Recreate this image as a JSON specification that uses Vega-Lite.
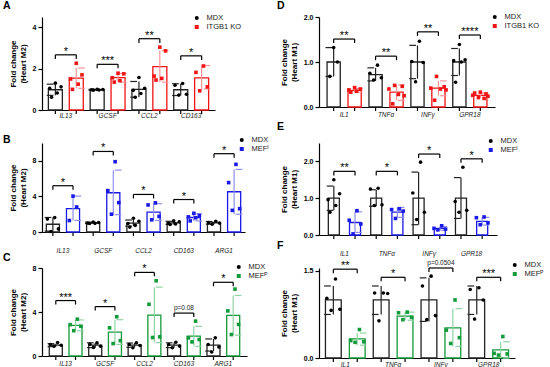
{
"$schema":"https://vega.github.io/schema/vega-lite/v6.json",
"padding":{"left":3,"top":0,"right":0,"bottom":0},
"config":{"font":"Liberation Sans","view":{"stroke":null},
"axis":{"domainColor":"black","tickColor":"black","labelColor":"black","grid":false,"labelFontSize":7,"labelFontWeight":"bold","titleFontSize":8,"titleFontWeight":"bold","titleColor":"black","domainWidth":1.2,"tickWidth":1.2,"tickSize":4},
"axisX":{"ticks":false,"labelFontStyle":"italic","labelFontWeight":"normal","labelFontSize":6.5,"labelAngle":0,"labelColor":"#222"},
"axisY":{"titlePadding":5,"labelPadding":2},
"legend":{"labelFontSize":7.5,"labelColor":"#222","symbolSize":16,"rowPadding":1,"clipHeight":8,"labelOffset":6,"symbolStrokeWidth":0},
"title":{"fontSize":10.5,"fontWeight":"bold","color":"black"}},
"datasets":{
"A_s":[{"g":"IL13","k":"MDX","m":0.98,"lo":0.71,"hi":1.25},{"g":"IL13","k":"ITGB1 KO","m":1.54,"lo":1.05,"hi":2.03},{"g":"GCSF","k":"MDX","m":0.98,"lo":0.96,"hi":1.0},{"g":"GCSF","k":"ITGB1 KO","m":1.57,"lo":1.35,"hi":1.77},{"g":"CCL2","k":"MDX","m":1.0,"lo":0.62,"hi":1.38},{"g":"CCL2","k":"ITGB1 KO","m":2.1,"lo":1.35,"hi":2.88},{"g":"CD163","k":"MDX","m":0.98,"lo":0.7,"hi":1.27},{"g":"CD163","k":"ITGB1 KO","m":1.55,"lo":1.02,"hi":2.15}],
"A_p":[{"g":"IL13","k":"MDX","v":1.3,"s":"a6"},{"g":"IL13","k":"MDX","v":1.12,"s":"a9"},{"g":"IL13","k":"MDX","v":1.05,"s":"a3"},{"g":"IL13","k":"MDX","v":0.82,"s":"a7"},{"g":"IL13","k":"MDX","v":0.62,"s":"a4"},
{"g":"IL13","k":"ITGB1 KO","v":2.26,"s":"b6"},{"g":"IL13","k":"ITGB1 KO","v":1.7,"s":"b9"},{"g":"IL13","k":"ITGB1 KO","v":1.5,"s":"b3"},{"g":"IL13","k":"ITGB1 KO","v":1.25,"s":"b7"},{"g":"IL13","k":"ITGB1 KO","v":1.0,"s":"b4"},
{"g":"GCSF","k":"MDX","v":1.0,"s":"a6"},{"g":"GCSF","k":"MDX","v":0.99,"s":"a9"},{"g":"GCSF","k":"MDX","v":0.98,"s":"a3"},{"g":"GCSF","k":"MDX","v":0.97,"s":"a7"},{"g":"GCSF","k":"MDX","v":0.96,"s":"a4"},
{"g":"GCSF","k":"ITGB1 KO","v":1.78,"s":"b6"},{"g":"GCSF","k":"ITGB1 KO","v":1.75,"s":"b9"},{"g":"GCSF","k":"ITGB1 KO","v":1.56,"s":"b3"},{"g":"GCSF","k":"ITGB1 KO","v":1.42,"s":"b7"},{"g":"GCSF","k":"ITGB1 KO","v":1.35,"s":"b4"},
{"g":"CCL2","k":"MDX","v":1.57,"s":"a6"},{"g":"CCL2","k":"MDX","v":1.05,"s":"a9"},{"g":"CCL2","k":"MDX","v":0.95,"s":"a3"},{"g":"CCL2","k":"MDX","v":0.8,"s":"a7"},{"g":"CCL2","k":"MDX","v":0.62,"s":"a4"},
{"g":"CCL2","k":"ITGB1 KO","v":3.04,"s":"b6"},{"g":"CCL2","k":"ITGB1 KO","v":2.86,"s":"b9"},{"g":"CCL2","k":"ITGB1 KO","v":1.64,"s":"b3"},{"g":"CCL2","k":"ITGB1 KO","v":1.53,"s":"b7"},{"g":"CCL2","k":"ITGB1 KO","v":1.45,"s":"b4"},
{"g":"CD163","k":"MDX","v":1.28,"s":"a7"},{"g":"CD163","k":"MDX","v":1.2,"s":"a3"},{"g":"CD163","k":"MDX","v":0.76,"s":"a9"},{"g":"CD163","k":"MDX","v":0.72,"s":"a5"},
{"g":"CD163","k":"ITGB1 KO","v":2.13,"s":"b7"},{"g":"CD163","k":"ITGB1 KO","v":1.82,"s":"b3"},{"g":"CD163","k":"ITGB1 KO","v":1.12,"s":"b9"},{"g":"CD163","k":"ITGB1 KO","v":0.93,"s":"b5"}],
"A_b":[{"g":"IL13","t":2.67,"l":2.47,"lab":"*"},{"g":"GCSF","t":2.21,"l":2.02,"lab":"***"},{"g":"CCL2","t":3.45,"l":3.24,"lab":"**"},{"g":"CD163","t":2.62,"l":2.42,"lab":"*"}],
"B_s":[{"g":"IL13","k":"MDX","m":0.87,"lo":0.1,"hi":1.63},{"g":"IL13","k":"MEFᴵ","m":2.62,"lo":1.3,"hi":4.03},{"g":"GCSF","k":"MDX","m":1.03,"lo":0.95,"hi":1.11},{"g":"GCSF","k":"MEFᴵ","m":4.41,"lo":1.95,"hi":6.95},{"g":"CCL2","k":"MDX","m":0.99,"lo":0.65,"hi":1.35},{"g":"CCL2","k":"MEFᴵ","m":2.24,"lo":1.3,"hi":3.18},{"g":"CD163","k":"MDX","m":1.03,"lo":0.85,"hi":1.2},{"g":"CD163","k":"MEFᴵ","m":1.63,"lo":1.25,"hi":2.05},{"g":"ARG1","k":"MDX","m":1.03,"lo":0.88,"hi":1.18},{"g":"ARG1","k":"MEFᴵ","m":4.52,"lo":2.0,"hi":7.03}],
"B_p":[{"g":"IL13","k":"MDX","v":1.62,"s":"a7"},{"g":"IL13","k":"MDX","v":1.45,"s":"a3"},{"g":"IL13","k":"MDX","v":0.35,"s":"a9"},{"g":"IL13","k":"MDX","v":0.06,"s":"a5"},
{"g":"IL13","k":"MEFᴵ","v":4.03,"s":"b6"},{"g":"IL13","k":"MEFᴵ","v":2.81,"s":"b8"},{"g":"IL13","k":"MEFᴵ","v":1.29,"s":"b4"},
{"g":"GCSF","k":"MDX","v":1.12,"s":"a6"},{"g":"GCSF","k":"MDX","v":1.06,"s":"a9"},{"g":"GCSF","k":"MDX","v":1.01,"s":"a3"},{"g":"GCSF","k":"MDX","v":0.97,"s":"a7"},{"g":"GCSF","k":"MDX","v":0.95,"s":"a4"},
{"g":"GCSF","k":"MEFᴵ","v":7.9,"s":"b7"},{"g":"GCSF","k":"MEFᴵ","v":4.65,"s":"b3"},{"g":"GCSF","k":"MEFᴵ","v":3.3,"s":"b9"},{"g":"GCSF","k":"MEFᴵ","v":2.0,"s":"b5"},
{"g":"CCL2","k":"MDX","v":1.55,"s":"a6"},{"g":"CCL2","k":"MDX","v":1.2,"s":"a9"},{"g":"CCL2","k":"MDX","v":0.95,"s":"a3"},{"g":"CCL2","k":"MDX","v":0.75,"s":"a7"},{"g":"CCL2","k":"MDX","v":0.55,"s":"a4"},
{"g":"CCL2","k":"MEFᴵ","v":3.27,"s":"b7"},{"g":"CCL2","k":"MEFᴵ","v":3.04,"s":"b3"},{"g":"CCL2","k":"MEFᴵ","v":1.75,"s":"b9"},{"g":"CCL2","k":"MEFᴵ","v":1.37,"s":"b5"},
{"g":"CD163","k":"MDX","v":1.25,"s":"a6"},{"g":"CD163","k":"MDX","v":1.15,"s":"a9"},{"g":"CD163","k":"MDX","v":1.0,"s":"a3"},{"g":"CD163","k":"MDX","v":0.9,"s":"a7"},{"g":"CD163","k":"MDX","v":0.85,"s":"a4"},
{"g":"CD163","k":"MEFᴵ","v":2.1,"s":"b6"},{"g":"CD163","k":"MEFᴵ","v":1.85,"s":"b9"},{"g":"CD163","k":"MEFᴵ","v":1.7,"s":"b3"},{"g":"CD163","k":"MEFᴵ","v":1.6,"s":"b7"},{"g":"CD163","k":"MEFᴵ","v":1.25,"s":"b4"},
{"g":"ARG1","k":"MDX","v":1.2,"s":"a7"},{"g":"ARG1","k":"MDX","v":1.05,"s":"a3"},{"g":"ARG1","k":"MDX","v":1.0,"s":"a9"},{"g":"ARG1","k":"MDX","v":0.88,"s":"a5"},
{"g":"ARG1","k":"MEFᴵ","v":7.6,"s":"b7"},{"g":"ARG1","k":"MEFᴵ","v":5.55,"s":"b3"},{"g":"ARG1","k":"MEFᴵ","v":2.62,"s":"b9"},{"g":"ARG1","k":"MEFᴵ","v":2.43,"s":"b5"}],
"B_b":[{"g":"IL13","t":5.2,"l":4.75,"lab":"*"},{"g":"GCSF","t":9.05,"l":8.6,"lab":"*"},{"g":"CCL2","t":4.22,"l":3.77,"lab":"*"},{"g":"CD163","t":3.65,"l":3.2,"lab":"*"},{"g":"ARG1","t":8.8,"l":8.35,"lab":"*"}],
"C_s":[{"g":"IL13","k":"MDX","m":0.98,"lo":0.85,"hi":1.12},{"g":"IL13","k":"MEFᴾ","m":2.78,"lo":2.3,"hi":3.28},{"g":"GCSF","k":"MDX","m":0.98,"lo":0.76,"hi":1.2},{"g":"GCSF","k":"MEFᴾ","m":2.17,"lo":1.05,"hi":3.3},{"g":"CCL2","k":"MDX","m":0.98,"lo":0.8,"hi":1.18},{"g":"CCL2","k":"MEFᴾ","m":3.72,"lo":1.22,"hi":6.26},{"g":"CD163","k":"MDX","m":0.98,"lo":0.76,"hi":1.2},{"g":"CD163","k":"MEFᴾ","m":1.8,"lo":0.88,"hi":2.7},{"g":"ARG1","k":"MDX","m":0.98,"lo":0.45,"hi":1.55},{"g":"ARG1","k":"MEFᴾ","m":3.7,"lo":1.9,"hi":5.5}],
"C_p":[{"g":"IL13","k":"MDX","v":1.22,"s":"a7"},{"g":"IL13","k":"MDX","v":1.04,"s":"a3"},{"g":"IL13","k":"MDX","v":0.98,"s":"a9"},{"g":"IL13","k":"MDX","v":0.89,"s":"a5"},
{"g":"IL13","k":"MEFᴾ","v":3.35,"s":"b7"},{"g":"IL13","k":"MEFᴾ","v":2.85,"s":"b3"},{"g":"IL13","k":"MEFᴾ","v":2.7,"s":"b9"},{"g":"IL13","k":"MEFᴾ","v":2.3,"s":"b5"},
{"g":"GCSF","k":"MDX","v":1.19,"s":"a7"},{"g":"GCSF","k":"MDX","v":1.07,"s":"a3"},{"g":"GCSF","k":"MDX","v":0.89,"s":"a9"},{"g":"GCSF","k":"MDX","v":0.78,"s":"a5"},
{"g":"GCSF","k":"MEFᴾ","v":3.57,"s":"b7"},{"g":"GCSF","k":"MEFᴾ","v":2.56,"s":"b3"},{"g":"GCSF","k":"MEFᴾ","v":1.4,"s":"b9"},{"g":"GCSF","k":"MEFᴾ","v":1.13,"s":"b5"},
{"g":"CCL2","k":"MDX","v":1.2,"s":"a7"},{"g":"CCL2","k":"MDX","v":1.05,"s":"a3"},{"g":"CCL2","k":"MDX","v":0.95,"s":"a9"},{"g":"CCL2","k":"MDX","v":0.75,"s":"a5"},
{"g":"CCL2","k":"MEFᴾ","v":6.84,"s":"b7"},{"g":"CCL2","k":"MEFᴾ","v":4.7,"s":"b3"},{"g":"CCL2","k":"MEFᴾ","v":1.74,"s":"b9"},{"g":"CCL2","k":"MEFᴾ","v":1.68,"s":"b5"},
{"g":"CD163","k":"MDX","v":1.25,"s":"a7"},{"g":"CD163","k":"MDX","v":1.05,"s":"a3"},{"g":"CD163","k":"MDX","v":0.9,"s":"a9"},{"g":"CD163","k":"MDX","v":0.75,"s":"a5"},
{"g":"CD163","k":"MEFᴾ","v":3.17,"s":"b7"},{"g":"CD163","k":"MEFᴾ","v":1.65,"s":"b3"},{"g":"CD163","k":"MEFᴾ","v":1.5,"s":"b9"},{"g":"CD163","k":"MEFᴾ","v":1.28,"s":"b5"},
{"g":"ARG1","k":"MDX","v":1.65,"s":"a7"},{"g":"ARG1","k":"MDX","v":1.04,"s":"a3"},{"g":"ARG1","k":"MDX","v":0.82,"s":"a9"},{"g":"ARG1","k":"MDX","v":0.37,"s":"a5"},
{"g":"ARG1","k":"MEFᴾ","v":6.08,"s":"b7"},{"g":"ARG1","k":"MEFᴾ","v":4.1,"s":"b3"},{"g":"ARG1","k":"MEFᴾ","v":2.87,"s":"b9"},{"g":"ARG1","k":"MEFᴾ","v":1.95,"s":"b5"}],
"C_b":[{"g":"IL13","t":5.04,"l":4.68,"lab":"***"},{"g":"GCSF","t":4.49,"l":4.13,"lab":"*"},{"g":"CCL2","t":7.6,"l":7.24,"lab":"*"},{"g":"CD163","t":3.9,"l":3.54,"lab":"p=0.08"},{"g":"ARG1","t":6.7,"l":6.34,"lab":"*"}],
"D_s":[{"g":"IL1","k":"MDX","m":1.0,"lo":0.68,"hi":1.32},{"g":"IL1","k":"ITGB1 KO","m":0.37,"lo":0.33,"hi":0.41},{"g":"TNFα","k":"MDX","m":0.72,"lo":0.58,"hi":0.87},{"g":"TNFα","k":"ITGB1 KO","m":0.33,"lo":0.15,"hi":0.49},{"g":"INFγ","k":"MDX","m":1.0,"lo":0.63,"hi":1.37},{"g":"INFγ","k":"ITGB1 KO","m":0.42,"lo":0.25,"hi":0.58},{"g":"GPR18","k":"MDX","m":1.0,"lo":0.7,"hi":1.3},{"g":"GPR18","k":"ITGB1 KO","m":0.26,"lo":0.21,"hi":0.31}],
"D_p":[{"g":"IL1","k":"MDX","v":1.32,"s":"a6"},{"g":"IL1","k":"MDX","v":1.0,"s":"a8"},{"g":"IL1","k":"MDX","v":0.68,"s":"a4"},
{"g":"IL1","k":"ITGB1 KO","v":0.43,"s":"b6"},{"g":"IL1","k":"ITGB1 KO","v":0.4,"s":"b9"},{"g":"IL1","k":"ITGB1 KO","v":0.38,"s":"b3"},{"g":"IL1","k":"ITGB1 KO","v":0.35,"s":"b7"},{"g":"IL1","k":"ITGB1 KO","v":0.33,"s":"b4"},
{"g":"TNFα","k":"MDX","v":0.93,"s":"a7"},{"g":"TNFα","k":"MDX","v":0.75,"s":"a3"},{"g":"TNFα","k":"MDX","v":0.65,"s":"a9"},{"g":"TNFα","k":"MDX","v":0.6,"s":"a5"},
{"g":"TNFα","k":"ITGB1 KO","v":0.48,"s":"b5"},{"g":"TNFα","k":"ITGB1 KO","v":0.46,"s":"b9"},{"g":"TNFα","k":"ITGB1 KO","v":0.4,"s":"b2"},{"g":"TNFα","k":"ITGB1 KO","v":0.28,"s":"b7"},{"g":"TNFα","k":"ITGB1 KO","v":0.25,"s":"b10"},{"g":"TNFα","k":"ITGB1 KO","v":0.07,"s":"b4"},
{"g":"INFγ","k":"MDX","v":1.46,"s":"a7"},{"g":"INFγ","k":"MDX","v":1.01,"s":"a3"},{"g":"INFγ","k":"MDX","v":0.99,"s":"a9"},{"g":"INFγ","k":"MDX","v":0.56,"s":"a5"},
{"g":"INFγ","k":"ITGB1 KO","v":0.68,"s":"b5"},{"g":"INFγ","k":"ITGB1 KO","v":0.45,"s":"b9"},{"g":"INFγ","k":"ITGB1 KO","v":0.42,"s":"b2"},{"g":"INFγ","k":"ITGB1 KO","v":0.4,"s":"b7"},{"g":"INFγ","k":"ITGB1 KO","v":0.38,"s":"b10"},{"g":"INFγ","k":"ITGB1 KO","v":0.15,"s":"b4"},
{"g":"GPR18","k":"MDX","v":1.39,"s":"a6"},{"g":"GPR18","k":"MDX","v":1.05,"s":"a9"},{"g":"GPR18","k":"MDX","v":1.03,"s":"a3"},{"g":"GPR18","k":"MDX","v":1.0,"s":"a7"},{"g":"GPR18","k":"MDX","v":0.55,"s":"a4"},
{"g":"GPR18","k":"ITGB1 KO","v":0.33,"s":"b6"},{"g":"GPR18","k":"ITGB1 KO","v":0.31,"s":"b3"},{"g":"GPR18","k":"ITGB1 KO","v":0.29,"s":"b9"},{"g":"GPR18","k":"ITGB1 KO","v":0.26,"s":"b2"},{"g":"GPR18","k":"ITGB1 KO","v":0.24,"s":"b10"},{"g":"GPR18","k":"ITGB1 KO","v":0.21,"s":"b5"},{"g":"GPR18","k":"ITGB1 KO","v":0.19,"s":"b8"}],
"D_b":[{"g":"IL1","t":1.51,"l":1.42,"lab":"**"},{"g":"TNFα","t":1.13,"l":1.04,"lab":"**"},{"g":"INFγ","t":1.67,"l":1.58,"lab":"**"},{"g":"GPR18","t":1.6,"l":1.51,"lab":"****"}],
"E_s":[{"g":"IL1","k":"MDX","m":1.0,"lo":0.67,"hi":1.33},{"g":"IL1","k":"MEFᴵ","m":0.34,"lo":0.07,"hi":0.63},{"g":"TNFα","k":"MDX","m":1.0,"lo":0.78,"hi":1.23},{"g":"TNFα","k":"MEFᴵ","m":0.62,"lo":0.48,"hi":0.75},{"g":"INFγ","k":"MDX","m":1.0,"lo":0.28,"hi":1.71},{"g":"INFγ","k":"MEFᴵ","m":0.18,"lo":0.13,"hi":0.23},{"g":"GPR18","k":"MDX","m":1.0,"lo":0.45,"hi":1.56},{"g":"GPR18","k":"MEFᴵ","m":0.37,"lo":0.27,"hi":0.48}],
"E_p":[{"g":"IL1","k":"MDX","v":1.5,"s":"a6"},{"g":"IL1","k":"MDX","v":1.12,"s":"a9"},{"g":"IL1","k":"MDX","v":0.96,"s":"a3"},{"g":"IL1","k":"MDX","v":0.8,"s":"a7"},{"g":"IL1","k":"MDX","v":0.62,"s":"a4"},
{"g":"IL1","k":"MEFᴵ","v":0.66,"s":"b7"},{"g":"IL1","k":"MEFᴵ","v":0.4,"s":"b3"},{"g":"IL1","k":"MEFᴵ","v":0.3,"s":"b9"},{"g":"IL1","k":"MEFᴵ","v":0.03,"s":"b5"},
{"g":"TNFα","k":"MDX","v":1.27,"s":"a7"},{"g":"TNFα","k":"MDX","v":1.25,"s":"a3"},{"g":"TNFα","k":"MDX","v":0.82,"s":"a9"},{"g":"TNFα","k":"MDX","v":0.8,"s":"a5"},
{"g":"TNFα","k":"MEFᴵ","v":0.71,"s":"b7"},{"g":"TNFα","k":"MEFᴵ","v":0.69,"s":"b3"},{"g":"TNFα","k":"MEFᴵ","v":0.65,"s":"b9"},{"g":"TNFα","k":"MEFᴵ","v":0.45,"s":"b5"},
{"g":"INFγ","k":"MDX","v":1.98,"s":"a7"},{"g":"INFγ","k":"MDX","v":1.14,"s":"a3"},{"g":"INFγ","k":"MDX","v":0.62,"s":"a9"},{"g":"INFγ","k":"MDX","v":0.42,"s":"a5"},
{"g":"INFγ","k":"MEFᴵ","v":0.25,"s":"b7"},{"g":"INFγ","k":"MEFᴵ","v":0.18,"s":"b3"},{"g":"INFγ","k":"MEFᴵ","v":0.16,"s":"b9"},{"g":"INFγ","k":"MEFᴵ","v":0.14,"s":"b5"},
{"g":"GPR18","k":"MDX","v":1.84,"s":"a7"},{"g":"GPR18","k":"MDX","v":0.91,"s":"a3"},{"g":"GPR18","k":"MDX","v":0.67,"s":"a9"},{"g":"GPR18","k":"MDX","v":0.62,"s":"a5"},
{"g":"GPR18","k":"MEFᴵ","v":0.49,"s":"b7"},{"g":"GPR18","k":"MEFᴵ","v":0.47,"s":"b3"},{"g":"GPR18","k":"MEFᴵ","v":0.33,"s":"b9"},{"g":"GPR18","k":"MEFᴵ","v":0.28,"s":"b5"}],
"E_b":[{"g":"IL1","t":1.73,"l":1.62,"lab":"**"},{"g":"TNFα","t":1.73,"l":1.62,"lab":"*"},{"g":"INFγ","t":2.2,"l":2.09,"lab":"*"},{"g":"GPR18","t":2.07,"l":1.96,"lab":"*"}],
"F_s":[{"g":"IL1","k":"MDX","m":1.0,"lo":0.75,"hi":1.24},{"g":"IL1","k":"MEFᴾ","m":0.33,"lo":0.22,"hi":0.43},{"g":"TNFα","k":"MDX","m":1.0,"lo":0.75,"hi":1.24},{"g":"TNFα","k":"MEFᴾ","m":0.72,"lo":0.65,"hi":0.79},{"g":"INFγ","k":"MDX","m":1.0,"lo":0.63,"hi":1.38},{"g":"INFγ","k":"MEFᴾ","m":0.52,"lo":0.2,"hi":0.85},{"g":"GPR18","k":"MDX","m":1.0,"lo":0.75,"hi":1.24},{"g":"GPR18","k":"MEFᴾ","m":0.14,"lo":0.0,"hi":0.28}],
"F_p":[{"g":"IL1","k":"MDX","v":1.36,"s":"a7"},{"g":"IL1","k":"MDX","v":1.03,"s":"a3"},{"g":"IL1","k":"MDX","v":0.84,"s":"a9"},{"g":"IL1","k":"MDX","v":0.82,"s":"a5"},
{"g":"IL1","k":"MEFᴾ","v":0.49,"s":"b7"},{"g":"IL1","k":"MEFᴾ","v":0.3,"s":"b3"},{"g":"IL1","k":"MEFᴾ","v":0.28,"s":"b9"},{"g":"IL1","k":"MEFᴾ","v":0.27,"s":"b5"},
{"g":"TNFα","k":"MDX","v":1.12,"s":"a7"},{"g":"TNFα","k":"MDX","v":1.12,"s":"a3"},{"g":"TNFα","k":"MDX","v":1.11,"s":"a9"},{"g":"TNFα","k":"MDX","v":0.64,"s":"a5"},
{"g":"TNFα","k":"MEFᴾ","v":0.79,"s":"b7"},{"g":"TNFα","k":"MEFᴾ","v":0.78,"s":"b3"},{"g":"TNFα","k":"MEFᴾ","v":0.7,"s":"b9"},{"g":"TNFα","k":"MEFᴾ","v":0.66,"s":"b5"},
{"g":"INFγ","k":"MDX","v":1.41,"s":"a7"},{"g":"INFγ","k":"MDX","v":1.24,"s":"a3"},{"g":"INFγ","k":"MDX","v":0.73,"s":"a9"},{"g":"INFγ","k":"MDX","v":0.66,"s":"a5"},
{"g":"INFγ","k":"MEFᴾ","v":1.0,"s":"b7"},{"g":"INFγ","k":"MEFᴾ","v":0.48,"s":"b3"},{"g":"INFγ","k":"MEFᴾ","v":0.35,"s":"b9"},{"g":"INFγ","k":"MEFᴾ","v":0.25,"s":"b5"},
{"g":"GPR18","k":"MDX","v":1.21,"s":"a7"},{"g":"GPR18","k":"MDX","v":1.18,"s":"a3"},{"g":"GPR18","k":"MDX","v":1.0,"s":"a9"},{"g":"GPR18","k":"MDX","v":0.67,"s":"a5"},
{"g":"GPR18","k":"MEFᴾ","v":0.37,"s":"b7"},{"g":"GPR18","k":"MEFᴾ","v":0.08,"s":"b3"},{"g":"GPR18","k":"MEFᴾ","v":0.07,"s":"b9"},{"g":"GPR18","k":"MEFᴾ","v":0.05,"s":"b5"}],
"F_b":[{"g":"IL1","t":1.53,"l":1.46,"lab":"**"},{"g":"TNFα","t":1.39,"l":1.32,"lab":"*"},{"g":"INFγ","t":1.55,"l":1.48,"lab":"p=0.0504"},{"g":"GPR18","t":1.39,"l":1.32,"lab":"***"}]
},
"columns":2,"align":"each","bounds":"flush","spacing":{"row":33,"column":72},
"resolve":{"scale":{"color":"independent","shape":"independent"},"legend":{"color":"independent","shape":"independent"}},
"concat":[
{"width":173,"height":93,
"title":{"text":"A","anchor":"start","frame":"group","dx":-39,"offset":3},
"encoding":{"x":{"field":"g","type":"nominal","title":null,"scale":{"domain":["IL13","GCSF","CCL2","CD163"],"paddingInner":0,"paddingOuter":0.07},"axis":{"labelPadding":2}}},
"resolve":{"scale":{"xOffset":"independent"}},
"layer":[
{"data":{"name":"A_s"},"mark":{"type":"rule","color":"black","strokeWidth":1.2},"encoding":{"xOffset":{"field":"k","type":"nominal","scale":{"domain":["MDX","ITGB1 KO"],"paddingInner":0.33,"paddingOuter":0.165}},"y":{"datum":0,"type":"quantitative","scale":{"domain":[0,4.5],"nice":false}},"y2":{"datum":-0.19}}},
{"data":{"name":"A_s"},"transform":[{"filter":{"field":"k","equal":"MDX"}}],"mark":{"type":"bar","fill":"white","stroke":"#222","strokeWidth":1.3},"encoding":{"xOffset":{"field":"k","type":"nominal","scale":{"domain":["MDX","ITGB1 KO"],"paddingInner":0.33,"paddingOuter":0.165}},"y":{"field":"m","type":"quantitative","scale":{"domain":[0,4.5],"nice":false},"axis":{"values":[0,2,4],"title":["Fold change","(Heart M2)"]}}}},
{"data":{"name":"A_s"},"transform":[{"filter":{"not":{"field":"k","equal":"MDX"}}}],"mark":{"type":"bar","fill":"white","stroke":"#f01414","strokeWidth":1.3},"encoding":{"xOffset":{"field":"k","type":"nominal","scale":{"domain":["MDX","ITGB1 KO"],"paddingInner":0.33,"paddingOuter":0.165}},"y":{"field":"m","type":"quantitative","scale":{"domain":[0,4.5],"nice":false}}}},
{"data":{"name":"A_s"},"transform":[{"filter":{"field":"k","equal":"MDX"}}],"mark":{"type":"rule","color":"#222","strokeWidth":1.2},"encoding":{"xOffset":{"field":"k","type":"nominal","scale":{"domain":["MDX","ITGB1 KO"],"paddingInner":0.33,"paddingOuter":0.165}},"y":{"field":"lo","type":"quantitative","scale":{"domain":[0,4.5],"nice":false}},"y2":{"field":"hi"}}},
{"data":{"name":"A_s"},"transform":[{"filter":{"not":{"field":"k","equal":"MDX"}}}],"mark":{"type":"rule","color":"#f59494","strokeWidth":1.2},"encoding":{"xOffset":{"field":"k","type":"nominal","scale":{"domain":["MDX","ITGB1 KO"],"paddingInner":0.33,"paddingOuter":0.165}},"y":{"field":"lo","type":"quantitative","scale":{"domain":[0,4.5],"nice":false}},"y2":{"field":"hi"}}},
{"data":{"name":"A_s"},"transform":[{"filter":{"field":"k","equal":"MDX"}}],"mark":{"type":"point","shape":"M-1,0L1,0","filled":false,"size":45,"strokeWidth":1.2,"color":"#222","opacity":1},"encoding":{"xOffset":{"field":"k","type":"nominal","scale":{"domain":["MDX","ITGB1 KO"],"paddingInner":0.33,"paddingOuter":0.165}},"y":{"field":"lo","type":"quantitative","scale":{"domain":[0,4.5],"nice":false}}}},
{"data":{"name":"A_s"},"transform":[{"filter":{"field":"k","equal":"MDX"}}],"mark":{"type":"point","shape":"M-1,0L1,0","filled":false,"size":45,"strokeWidth":1.2,"color":"#222","opacity":1},"encoding":{"xOffset":{"field":"k","type":"nominal","scale":{"domain":["MDX","ITGB1 KO"],"paddingInner":0.33,"paddingOuter":0.165}},"y":{"field":"hi","type":"quantitative","scale":{"domain":[0,4.5],"nice":false}}}},
{"data":{"name":"A_s"},"transform":[{"filter":{"not":{"field":"k","equal":"MDX"}}}],"mark":{"type":"point","shape":"M-1,0L1,0","filled":false,"size":45,"strokeWidth":1.2,"color":"#f59494","opacity":1},"encoding":{"xOffset":{"field":"k","type":"nominal","scale":{"domain":["MDX","ITGB1 KO"],"paddingInner":0.33,"paddingOuter":0.165}},"y":{"field":"lo","type":"quantitative","scale":{"domain":[0,4.5],"nice":false}}}},
{"data":{"name":"A_s"},"transform":[{"filter":{"not":{"field":"k","equal":"MDX"}}}],"mark":{"type":"point","shape":"M-1,0L1,0","filled":false,"size":45,"strokeWidth":1.2,"color":"#f59494","opacity":1},"encoding":{"xOffset":{"field":"k","type":"nominal","scale":{"domain":["MDX","ITGB1 KO"],"paddingInner":0.33,"paddingOuter":0.165}},"y":{"field":"hi","type":"quantitative","scale":{"domain":[0,4.5],"nice":false}}}},
{"data":{"name":"A_p"},"mark":{"type":"point","filled":true,"size":13,"opacity":1},"encoding":{"xOffset":{"field":"s","type":"nominal","scale":{"type":"point","domain":["a1","a2","a3","a4","a5","a6","a7","a8","a9","a10","a11","b1","b2","b3","b4","b5","b6","b7","b8","b9","b10","b11"],"padding":0.5}},"y":{"field":"v","type":"quantitative","scale":{"domain":[0,4.5],"nice":false}},"color":{"field":"k","type":"nominal","scale":{"domain":["MDX","ITGB1 KO"],"range":["black","#f01414"]},"legend":{"orient":"none","legendX":151,"legendY":-3,"title":null}},"shape":{"field":"k","type":"nominal","scale":{"domain":["MDX","ITGB1 KO"],"range":["circle","square"]},"legend":{"orient":"none","legendX":151,"legendY":-3,"title":null}}}},
{"data":{"name":"A_b"},"mark":{"type":"rule","color":"black","strokeWidth":1.2},"encoding":{"x":{"field":"g","type":"nominal","bandPosition":0.25,"scale":{"domain":["IL13","GCSF","CCL2","CD163"]}},"x2":{"field":"g","bandPosition":0.75},"y":{"field":"t","type":"quantitative","scale":{"domain":[0,4.5],"nice":false}}}},
{"data":{"name":"A_b"},"mark":{"type":"rule","color":"black","strokeWidth":1.2},"encoding":{"x":{"field":"g","type":"nominal","bandPosition":0.25,"scale":{"domain":["IL13","GCSF","CCL2","CD163"]}},"y":{"field":"t","type":"quantitative","scale":{"domain":[0,4.5],"nice":false}},"y2":{"field":"l"}}},
{"data":{"name":"A_b"},"mark":{"type":"rule","color":"black","strokeWidth":1.2},"encoding":{"x":{"field":"g","type":"nominal","bandPosition":0.75,"scale":{"domain":["IL13","GCSF","CCL2","CD163"]}},"y":{"field":"t","type":"quantitative","scale":{"domain":[0,4.5],"nice":false}},"y2":{"field":"l"}}},
{"data":{"name":"A_b"},"mark":{"type":"text","fontSize":11,"baseline":"alphabetic","dy":0,"color":"black"},"encoding":{"y":{"field":"t","type":"quantitative","scale":{"domain":[0,4.5],"nice":false}},"text":{"field":"lab"}}}
]},
{"width":176,"height":90,
"title":{"text":"D","anchor":"start","frame":"group","dx":-42,"offset":1.3},
"encoding":{"x":{"field":"g","type":"nominal","title":null,"scale":{"domain":["IL1","TNFα","INFγ","GPR18"],"paddingInner":0,"paddingOuter":0.1},"axis":{"labelPadding":4}}},
"resolve":{"scale":{"xOffset":"independent"}},
"layer":[
{"data":{"name":"D_s"},"mark":{"type":"rule","color":"black","strokeWidth":1.2},"encoding":{"xOffset":{"field":"k","type":"nominal","scale":{"domain":["MDX","ITGB1 KO"],"paddingInner":0.37,"paddingOuter":0.185}},"y":{"datum":0,"type":"quantitative","scale":{"domain":[0,2],"nice":false}},"y2":{"datum":-0.09}}},
{"data":{"name":"D_s"},"transform":[{"filter":{"field":"k","equal":"MDX"}}],"mark":{"type":"bar","fill":"white","stroke":"#222","strokeWidth":1.3},"encoding":{"xOffset":{"field":"k","type":"nominal","scale":{"domain":["MDX","ITGB1 KO"],"paddingInner":0.37,"paddingOuter":0.185}},"y":{"field":"m","type":"quantitative","scale":{"domain":[0,2],"nice":false},"axis":{"values":[0,0.5,1,1.5,2],"format":".1f","title":["Fold change","(Heart M1)"]}}}},
{"data":{"name":"D_s"},"transform":[{"filter":{"not":{"field":"k","equal":"MDX"}}}],"mark":{"type":"bar","fill":"white","stroke":"#f01414","strokeWidth":1.3},"encoding":{"xOffset":{"field":"k","type":"nominal","scale":{"domain":["MDX","ITGB1 KO"],"paddingInner":0.37,"paddingOuter":0.185}},"y":{"field":"m","type":"quantitative","scale":{"domain":[0,2],"nice":false}}}},
{"data":{"name":"D_s"},"transform":[{"filter":{"field":"k","equal":"MDX"}}],"mark":{"type":"rule","color":"#222","strokeWidth":1.2},"encoding":{"xOffset":{"field":"k","type":"nominal","scale":{"domain":["MDX","ITGB1 KO"],"paddingInner":0.37,"paddingOuter":0.185}},"y":{"field":"lo","type":"quantitative","scale":{"domain":[0,2],"nice":false}},"y2":{"field":"hi"}}},
{"data":{"name":"D_s"},"transform":[{"filter":{"not":{"field":"k","equal":"MDX"}}}],"mark":{"type":"rule","color":"#f59494","strokeWidth":1.2},"encoding":{"xOffset":{"field":"k","type":"nominal","scale":{"domain":["MDX","ITGB1 KO"],"paddingInner":0.37,"paddingOuter":0.185}},"y":{"field":"lo","type":"quantitative","scale":{"domain":[0,2],"nice":false}},"y2":{"field":"hi"}}},
{"data":{"name":"D_s"},"transform":[{"filter":{"field":"k","equal":"MDX"}}],"mark":{"type":"point","shape":"M-1,0L1,0","filled":false,"size":45,"strokeWidth":1.2,"color":"#222","opacity":1},"encoding":{"xOffset":{"field":"k","type":"nominal","scale":{"domain":["MDX","ITGB1 KO"],"paddingInner":0.37,"paddingOuter":0.185}},"y":{"field":"lo","type":"quantitative","scale":{"domain":[0,2],"nice":false}}}},
{"data":{"name":"D_s"},"transform":[{"filter":{"field":"k","equal":"MDX"}}],"mark":{"type":"point","shape":"M-1,0L1,0","filled":false,"size":45,"strokeWidth":1.2,"color":"#222","opacity":1},"encoding":{"xOffset":{"field":"k","type":"nominal","scale":{"domain":["MDX","ITGB1 KO"],"paddingInner":0.37,"paddingOuter":0.185}},"y":{"field":"hi","type":"quantitative","scale":{"domain":[0,2],"nice":false}}}},
{"data":{"name":"D_s"},"transform":[{"filter":{"not":{"field":"k","equal":"MDX"}}}],"mark":{"type":"point","shape":"M-1,0L1,0","filled":false,"size":45,"strokeWidth":1.2,"color":"#f59494","opacity":1},"encoding":{"xOffset":{"field":"k","type":"nominal","scale":{"domain":["MDX","ITGB1 KO"],"paddingInner":0.37,"paddingOuter":0.185}},"y":{"field":"lo","type":"quantitative","scale":{"domain":[0,2],"nice":false}}}},
{"data":{"name":"D_s"},"transform":[{"filter":{"not":{"field":"k","equal":"MDX"}}}],"mark":{"type":"point","shape":"M-1,0L1,0","filled":false,"size":45,"strokeWidth":1.2,"color":"#f59494","opacity":1},"encoding":{"xOffset":{"field":"k","type":"nominal","scale":{"domain":["MDX","ITGB1 KO"],"paddingInner":0.37,"paddingOuter":0.185}},"y":{"field":"hi","type":"quantitative","scale":{"domain":[0,2],"nice":false}}}},
{"data":{"name":"D_p"},"mark":{"type":"point","filled":true,"size":13,"opacity":1},"encoding":{"xOffset":{"field":"s","type":"nominal","scale":{"type":"point","domain":["a1","a2","a3","a4","a5","a6","a7","a8","a9","a10","a11","b1","b2","b3","b4","b5","b6","b7","b8","b9","b10","b11"],"padding":0.5}},"y":{"field":"v","type":"quantitative","scale":{"domain":[0,2],"nice":false}},"color":{"field":"k","type":"nominal","scale":{"domain":["MDX","ITGB1 KO"],"range":["black","#f01414"]},"legend":{"orient":"none","legendX":172,"legendY":-4,"title":null}},"shape":{"field":"k","type":"nominal","scale":{"domain":["MDX","ITGB1 KO"],"range":["circle","square"]},"legend":{"orient":"none","legendX":172,"legendY":-4,"title":null}}}},
{"data":{"name":"D_b"},"mark":{"type":"rule","color":"black","strokeWidth":1.2},"encoding":{"x":{"field":"g","type":"nominal","bandPosition":0.25,"scale":{"domain":["IL1","TNFα","INFγ","GPR18"]}},"x2":{"field":"g","bandPosition":0.75},"y":{"field":"t","type":"quantitative","scale":{"domain":[0,2],"nice":false}}}},
{"data":{"name":"D_b"},"mark":{"type":"rule","color":"black","strokeWidth":1.2},"encoding":{"x":{"field":"g","type":"nominal","bandPosition":0.25,"scale":{"domain":["IL1","TNFα","INFγ","GPR18"]}},"y":{"field":"t","type":"quantitative","scale":{"domain":[0,2],"nice":false}},"y2":{"field":"l"}}},
{"data":{"name":"D_b"},"mark":{"type":"rule","color":"black","strokeWidth":1.2},"encoding":{"x":{"field":"g","type":"nominal","bandPosition":0.75,"scale":{"domain":["IL1","TNFα","INFγ","GPR18"]}},"y":{"field":"t","type":"quantitative","scale":{"domain":[0,2],"nice":false}},"y2":{"field":"l"}}},
{"data":{"name":"D_b"},"mark":{"type":"text","fontSize":11,"baseline":"alphabetic","dy":0,"color":"black"},"encoding":{"y":{"field":"t","type":"quantitative","scale":{"domain":[0,2],"nice":false}},"text":{"field":"lab"}}}
]},
{"width":203,"height":89,
"title":{"text":"B","anchor":"start","frame":"group","dx":-39,"offset":-9},
"encoding":{"x":{"field":"g","type":"nominal","title":null,"scale":{"domain":["IL13","GCSF","CCL2","CD163","ARG1"],"paddingInner":0,"paddingOuter":0.02},"axis":{"labelPadding":15}}},
"resolve":{"scale":{"xOffset":"independent"}},
"layer":[
{"data":{"name":"B_s"},"mark":{"type":"rule","color":"black","strokeWidth":1.2},"encoding":{"xOffset":{"field":"k","type":"nominal","scale":{"domain":["MDX","MEFᴵ"],"paddingInner":0.35,"paddingOuter":0.175}},"y":{"datum":0,"type":"quantitative","scale":{"domain":[0,10],"nice":false}},"y2":{"datum":-0.45}}},
{"data":{"name":"B_s"},"transform":[{"filter":{"field":"k","equal":"MDX"}}],"mark":{"type":"bar","fill":"white","stroke":"#222","strokeWidth":1.3},"encoding":{"xOffset":{"field":"k","type":"nominal","scale":{"domain":["MDX","MEFᴵ"],"paddingInner":0.35,"paddingOuter":0.175}},"y":{"field":"m","type":"quantitative","scale":{"domain":[0,10],"nice":false},"axis":{"values":[0,2,4,6,8,10],"title":["Fold change","(Heart M2)"]}}}},
{"data":{"name":"B_s"},"transform":[{"filter":{"not":{"field":"k","equal":"MDX"}}}],"mark":{"type":"bar","fill":"white","stroke":"#1a1ae6","strokeWidth":1.3},"encoding":{"xOffset":{"field":"k","type":"nominal","scale":{"domain":["MDX","MEFᴵ"],"paddingInner":0.35,"paddingOuter":0.175}},"y":{"field":"m","type":"quantitative","scale":{"domain":[0,10],"nice":false}}}},
{"data":{"name":"B_s"},"transform":[{"filter":{"field":"k","equal":"MDX"}}],"mark":{"type":"rule","color":"#222","strokeWidth":1.2},"encoding":{"xOffset":{"field":"k","type":"nominal","scale":{"domain":["MDX","MEFᴵ"],"paddingInner":0.35,"paddingOuter":0.175}},"y":{"field":"lo","type":"quantitative","scale":{"domain":[0,10],"nice":false}},"y2":{"field":"hi"}}},
{"data":{"name":"B_s"},"transform":[{"filter":{"not":{"field":"k","equal":"MDX"}}}],"mark":{"type":"rule","color":"#8f8ff0","strokeWidth":1.2},"encoding":{"xOffset":{"field":"k","type":"nominal","scale":{"domain":["MDX","MEFᴵ"],"paddingInner":0.35,"paddingOuter":0.175}},"y":{"field":"lo","type":"quantitative","scale":{"domain":[0,10],"nice":false}},"y2":{"field":"hi"}}},
{"data":{"name":"B_s"},"transform":[{"filter":{"field":"k","equal":"MDX"}}],"mark":{"type":"point","shape":"M-1,0L1,0","filled":false,"size":45,"strokeWidth":1.2,"color":"#222","opacity":1},"encoding":{"xOffset":{"field":"k","type":"nominal","scale":{"domain":["MDX","MEFᴵ"],"paddingInner":0.35,"paddingOuter":0.175}},"y":{"field":"lo","type":"quantitative","scale":{"domain":[0,10],"nice":false}}}},
{"data":{"name":"B_s"},"transform":[{"filter":{"field":"k","equal":"MDX"}}],"mark":{"type":"point","shape":"M-1,0L1,0","filled":false,"size":45,"strokeWidth":1.2,"color":"#222","opacity":1},"encoding":{"xOffset":{"field":"k","type":"nominal","scale":{"domain":["MDX","MEFᴵ"],"paddingInner":0.35,"paddingOuter":0.175}},"y":{"field":"hi","type":"quantitative","scale":{"domain":[0,10],"nice":false}}}},
{"data":{"name":"B_s"},"transform":[{"filter":{"not":{"field":"k","equal":"MDX"}}}],"mark":{"type":"point","shape":"M-1,0L1,0","filled":false,"size":45,"strokeWidth":1.2,"color":"#8f8ff0","opacity":1},"encoding":{"xOffset":{"field":"k","type":"nominal","scale":{"domain":["MDX","MEFᴵ"],"paddingInner":0.35,"paddingOuter":0.175}},"y":{"field":"lo","type":"quantitative","scale":{"domain":[0,10],"nice":false}}}},
{"data":{"name":"B_s"},"transform":[{"filter":{"not":{"field":"k","equal":"MDX"}}}],"mark":{"type":"point","shape":"M-1,0L1,0","filled":false,"size":45,"strokeWidth":1.2,"color":"#8f8ff0","opacity":1},"encoding":{"xOffset":{"field":"k","type":"nominal","scale":{"domain":["MDX","MEFᴵ"],"paddingInner":0.35,"paddingOuter":0.175}},"y":{"field":"hi","type":"quantitative","scale":{"domain":[0,10],"nice":false}}}},
{"data":{"name":"B_p"},"mark":{"type":"point","filled":true,"size":13,"opacity":1},"encoding":{"xOffset":{"field":"s","type":"nominal","scale":{"type":"point","domain":["a1","a2","a3","a4","a5","a6","a7","a8","a9","a10","a11","b1","b2","b3","b4","b5","b6","b7","b8","b9","b10","b11"],"padding":0.5}},"y":{"field":"v","type":"quantitative","scale":{"domain":[0,10],"nice":false}},"color":{"field":"k","type":"nominal","scale":{"domain":["MDX","MEFᴵ"],"range":["black","#1a1ae6"]},"legend":{"orient":"none","legendX":196,"legendY":-7,"title":null}},"shape":{"field":"k","type":"nominal","scale":{"domain":["MDX","MEFᴵ"],"range":["circle","square"]},"legend":{"orient":"none","legendX":196,"legendY":-7,"title":null}}}},
{"data":{"name":"B_b"},"mark":{"type":"rule","color":"black","strokeWidth":1.2},"encoding":{"x":{"field":"g","type":"nominal","bandPosition":0.25,"scale":{"domain":["IL13","GCSF","CCL2","CD163","ARG1"]}},"x2":{"field":"g","bandPosition":0.75},"y":{"field":"t","type":"quantitative","scale":{"domain":[0,10],"nice":false}}}},
{"data":{"name":"B_b"},"mark":{"type":"rule","color":"black","strokeWidth":1.2},"encoding":{"x":{"field":"g","type":"nominal","bandPosition":0.25,"scale":{"domain":["IL13","GCSF","CCL2","CD163","ARG1"]}},"y":{"field":"t","type":"quantitative","scale":{"domain":[0,10],"nice":false}},"y2":{"field":"l"}}},
{"data":{"name":"B_b"},"mark":{"type":"rule","color":"black","strokeWidth":1.2},"encoding":{"x":{"field":"g","type":"nominal","bandPosition":0.75,"scale":{"domain":["IL13","GCSF","CCL2","CD163","ARG1"]}},"y":{"field":"t","type":"quantitative","scale":{"domain":[0,10],"nice":false}},"y2":{"field":"l"}}},
{"data":{"name":"B_b"},"mark":{"type":"text","fontSize":11,"baseline":"alphabetic","dy":0,"color":"black"},"encoding":{"y":{"field":"t","type":"quantitative","scale":{"domain":[0,10],"nice":false}},"text":{"field":"lab"}}}
]},
{"width":178,"height":92,
"title":{"text":"E","anchor":"start","frame":"group","dx":-42,"offset":5},
"encoding":{"x":{"field":"g","type":"nominal","title":null,"scale":{"domain":["IL1","TNFα","INFγ","GPR18"],"paddingInner":0,"paddingOuter":0.1},"axis":{"labelPadding":15}}},
"resolve":{"scale":{"xOffset":"independent"}},
"layer":[
{"data":{"name":"E_s"},"mark":{"type":"rule","color":"black","strokeWidth":1.2},"encoding":{"xOffset":{"field":"k","type":"nominal","scale":{"domain":["MDX","MEFᴵ"],"paddingInner":0.48,"paddingOuter":0.24}},"y":{"datum":0,"type":"quantitative","scale":{"domain":[0,2.5],"nice":false}},"y2":{"datum":-0.11}}},
{"data":{"name":"E_s"},"transform":[{"filter":{"field":"k","equal":"MDX"}}],"mark":{"type":"bar","fill":"white","stroke":"#222","strokeWidth":1.3},"encoding":{"xOffset":{"field":"k","type":"nominal","scale":{"domain":["MDX","MEFᴵ"],"paddingInner":0.48,"paddingOuter":0.24}},"y":{"field":"m","type":"quantitative","scale":{"domain":[0,2.5],"nice":false},"axis":{"values":[0,0.5,1,1.5,2,2.5],"format":".1f","title":["Fold change","(Heart M1)"]}}}},
{"data":{"name":"E_s"},"transform":[{"filter":{"not":{"field":"k","equal":"MDX"}}}],"mark":{"type":"bar","fill":"white","stroke":"#1a1ae6","strokeWidth":1.3},"encoding":{"xOffset":{"field":"k","type":"nominal","scale":{"domain":["MDX","MEFᴵ"],"paddingInner":0.48,"paddingOuter":0.24}},"y":{"field":"m","type":"quantitative","scale":{"domain":[0,2.5],"nice":false}}}},
{"data":{"name":"E_s"},"transform":[{"filter":{"field":"k","equal":"MDX"}}],"mark":{"type":"rule","color":"#222","strokeWidth":1.2},"encoding":{"xOffset":{"field":"k","type":"nominal","scale":{"domain":["MDX","MEFᴵ"],"paddingInner":0.48,"paddingOuter":0.24}},"y":{"field":"lo","type":"quantitative","scale":{"domain":[0,2.5],"nice":false}},"y2":{"field":"hi"}}},
{"data":{"name":"E_s"},"transform":[{"filter":{"not":{"field":"k","equal":"MDX"}}}],"mark":{"type":"rule","color":"#8f8ff0","strokeWidth":1.2},"encoding":{"xOffset":{"field":"k","type":"nominal","scale":{"domain":["MDX","MEFᴵ"],"paddingInner":0.48,"paddingOuter":0.24}},"y":{"field":"lo","type":"quantitative","scale":{"domain":[0,2.5],"nice":false}},"y2":{"field":"hi"}}},
{"data":{"name":"E_s"},"transform":[{"filter":{"field":"k","equal":"MDX"}}],"mark":{"type":"point","shape":"M-1,0L1,0","filled":false,"size":45,"strokeWidth":1.2,"color":"#222","opacity":1},"encoding":{"xOffset":{"field":"k","type":"nominal","scale":{"domain":["MDX","MEFᴵ"],"paddingInner":0.48,"paddingOuter":0.24}},"y":{"field":"lo","type":"quantitative","scale":{"domain":[0,2.5],"nice":false}}}},
{"data":{"name":"E_s"},"transform":[{"filter":{"field":"k","equal":"MDX"}}],"mark":{"type":"point","shape":"M-1,0L1,0","filled":false,"size":45,"strokeWidth":1.2,"color":"#222","opacity":1},"encoding":{"xOffset":{"field":"k","type":"nominal","scale":{"domain":["MDX","MEFᴵ"],"paddingInner":0.48,"paddingOuter":0.24}},"y":{"field":"hi","type":"quantitative","scale":{"domain":[0,2.5],"nice":false}}}},
{"data":{"name":"E_s"},"transform":[{"filter":{"not":{"field":"k","equal":"MDX"}}}],"mark":{"type":"point","shape":"M-1,0L1,0","filled":false,"size":45,"strokeWidth":1.2,"color":"#8f8ff0","opacity":1},"encoding":{"xOffset":{"field":"k","type":"nominal","scale":{"domain":["MDX","MEFᴵ"],"paddingInner":0.48,"paddingOuter":0.24}},"y":{"field":"lo","type":"quantitative","scale":{"domain":[0,2.5],"nice":false}}}},
{"data":{"name":"E_s"},"transform":[{"filter":{"not":{"field":"k","equal":"MDX"}}}],"mark":{"type":"point","shape":"M-1,0L1,0","filled":false,"size":45,"strokeWidth":1.2,"color":"#8f8ff0","opacity":1},"encoding":{"xOffset":{"field":"k","type":"nominal","scale":{"domain":["MDX","MEFᴵ"],"paddingInner":0.48,"paddingOuter":0.24}},"y":{"field":"hi","type":"quantitative","scale":{"domain":[0,2.5],"nice":false}}}},
{"data":{"name":"E_p"},"mark":{"type":"point","filled":true,"size":13,"opacity":1},"encoding":{"xOffset":{"field":"s","type":"nominal","scale":{"type":"point","domain":["a1","a2","a3","a4","a5","a6","a7","a8","a9","a10","a11","b1","b2","b3","b4","b5","b6","b7","b8","b9","b10","b11"],"padding":0.5}},"y":{"field":"v","type":"quantitative","scale":{"domain":[0,2.5],"nice":false}},"color":{"field":"k","type":"nominal","scale":{"domain":["MDX","MEFᴵ"],"range":["black","#1a1ae6"]},"legend":{"orient":"none","legendX":168,"legendY":-6,"title":null}},"shape":{"field":"k","type":"nominal","scale":{"domain":["MDX","MEFᴵ"],"range":["circle","square"]},"legend":{"orient":"none","legendX":168,"legendY":-6,"title":null}}}},
{"data":{"name":"E_b"},"mark":{"type":"rule","color":"black","strokeWidth":1.2},"encoding":{"x":{"field":"g","type":"nominal","bandPosition":0.25,"scale":{"domain":["IL1","TNFα","INFγ","GPR18"]}},"x2":{"field":"g","bandPosition":0.75},"y":{"field":"t","type":"quantitative","scale":{"domain":[0,2.5],"nice":false}}}},
{"data":{"name":"E_b"},"mark":{"type":"rule","color":"black","strokeWidth":1.2},"encoding":{"x":{"field":"g","type":"nominal","bandPosition":0.25,"scale":{"domain":["IL1","TNFα","INFγ","GPR18"]}},"y":{"field":"t","type":"quantitative","scale":{"domain":[0,2.5],"nice":false}},"y2":{"field":"l"}}},
{"data":{"name":"E_b"},"mark":{"type":"rule","color":"black","strokeWidth":1.2},"encoding":{"x":{"field":"g","type":"nominal","bandPosition":0.75,"scale":{"domain":["IL1","TNFα","INFγ","GPR18"]}},"y":{"field":"t","type":"quantitative","scale":{"domain":[0,2.5],"nice":false}},"y2":{"field":"l"}}},
{"data":{"name":"E_b"},"mark":{"type":"text","fontSize":11,"baseline":"alphabetic","dy":0,"color":"black"},"encoding":{"y":{"field":"t","type":"quantitative","scale":{"domain":[0,2.5],"nice":false}},"text":{"field":"lab"}}}
]},
{"width":205,"height":88,
"title":{"text":"C","anchor":"start","frame":"group","dx":-39,"offset":0},
"encoding":{"x":{"field":"g","type":"nominal","title":null,"scale":{"domain":["IL13","GCSF","CCL2","CD163","ARG1"],"paddingInner":0,"paddingOuter":0.1},"axis":{"labelPadding":4}}},
"resolve":{"scale":{"xOffset":"independent"}},
"layer":[
{"data":{"name":"C_s"},"mark":{"type":"rule","color":"black","strokeWidth":1.2},"encoding":{"xOffset":{"field":"k","type":"nominal","scale":{"domain":["MDX","MEFᴾ"],"paddingInner":0.34,"paddingOuter":0.17}},"y":{"datum":0,"type":"quantitative","scale":{"domain":[0,8],"nice":false}},"y2":{"datum":-0.36}}},
{"data":{"name":"C_s"},"transform":[{"filter":{"field":"k","equal":"MDX"}}],"mark":{"type":"bar","fill":"white","stroke":"#222","strokeWidth":1.3},"encoding":{"xOffset":{"field":"k","type":"nominal","scale":{"domain":["MDX","MEFᴾ"],"paddingInner":0.34,"paddingOuter":0.17}},"y":{"field":"m","type":"quantitative","scale":{"domain":[0,8],"nice":false},"axis":{"values":[0,2,4,6,8],"title":["Fold change","(Heart M2)"]}}}},
{"data":{"name":"C_s"},"transform":[{"filter":{"not":{"field":"k","equal":"MDX"}}}],"mark":{"type":"bar","fill":"white","stroke":"#139a3a","strokeWidth":1.3},"encoding":{"xOffset":{"field":"k","type":"nominal","scale":{"domain":["MDX","MEFᴾ"],"paddingInner":0.34,"paddingOuter":0.17}},"y":{"field":"m","type":"quantitative","scale":{"domain":[0,8],"nice":false}}}},
{"data":{"name":"C_s"},"transform":[{"filter":{"field":"k","equal":"MDX"}}],"mark":{"type":"rule","color":"#222","strokeWidth":1.2},"encoding":{"xOffset":{"field":"k","type":"nominal","scale":{"domain":["MDX","MEFᴾ"],"paddingInner":0.34,"paddingOuter":0.17}},"y":{"field":"lo","type":"quantitative","scale":{"domain":[0,8],"nice":false}},"y2":{"field":"hi"}}},
{"data":{"name":"C_s"},"transform":[{"filter":{"not":{"field":"k","equal":"MDX"}}}],"mark":{"type":"rule","color":"#8fd3a4","strokeWidth":1.2},"encoding":{"xOffset":{"field":"k","type":"nominal","scale":{"domain":["MDX","MEFᴾ"],"paddingInner":0.34,"paddingOuter":0.17}},"y":{"field":"lo","type":"quantitative","scale":{"domain":[0,8],"nice":false}},"y2":{"field":"hi"}}},
{"data":{"name":"C_s"},"transform":[{"filter":{"field":"k","equal":"MDX"}}],"mark":{"type":"point","shape":"M-1,0L1,0","filled":false,"size":45,"strokeWidth":1.2,"color":"#222","opacity":1},"encoding":{"xOffset":{"field":"k","type":"nominal","scale":{"domain":["MDX","MEFᴾ"],"paddingInner":0.34,"paddingOuter":0.17}},"y":{"field":"lo","type":"quantitative","scale":{"domain":[0,8],"nice":false}}}},
{"data":{"name":"C_s"},"transform":[{"filter":{"field":"k","equal":"MDX"}}],"mark":{"type":"point","shape":"M-1,0L1,0","filled":false,"size":45,"strokeWidth":1.2,"color":"#222","opacity":1},"encoding":{"xOffset":{"field":"k","type":"nominal","scale":{"domain":["MDX","MEFᴾ"],"paddingInner":0.34,"paddingOuter":0.17}},"y":{"field":"hi","type":"quantitative","scale":{"domain":[0,8],"nice":false}}}},
{"data":{"name":"C_s"},"transform":[{"filter":{"not":{"field":"k","equal":"MDX"}}}],"mark":{"type":"point","shape":"M-1,0L1,0","filled":false,"size":45,"strokeWidth":1.2,"color":"#8fd3a4","opacity":1},"encoding":{"xOffset":{"field":"k","type":"nominal","scale":{"domain":["MDX","MEFᴾ"],"paddingInner":0.34,"paddingOuter":0.17}},"y":{"field":"lo","type":"quantitative","scale":{"domain":[0,8],"nice":false}}}},
{"data":{"name":"C_s"},"transform":[{"filter":{"not":{"field":"k","equal":"MDX"}}}],"mark":{"type":"point","shape":"M-1,0L1,0","filled":false,"size":45,"strokeWidth":1.2,"color":"#8fd3a4","opacity":1},"encoding":{"xOffset":{"field":"k","type":"nominal","scale":{"domain":["MDX","MEFᴾ"],"paddingInner":0.34,"paddingOuter":0.17}},"y":{"field":"hi","type":"quantitative","scale":{"domain":[0,8],"nice":false}}}},
{"data":{"name":"C_p"},"mark":{"type":"point","filled":true,"size":13,"opacity":1},"encoding":{"xOffset":{"field":"s","type":"nominal","scale":{"type":"point","domain":["a1","a2","a3","a4","a5","a6","a7","a8","a9","a10","a11","b1","b2","b3","b4","b5","b6","b7","b8","b9","b10","b11"],"padding":0.5}},"y":{"field":"v","type":"quantitative","scale":{"domain":[0,8],"nice":false}},"color":{"field":"k","type":"nominal","scale":{"domain":["MDX","MEFᴾ"],"range":["black","#139a3a"]},"legend":{"orient":"none","legendX":193,"legendY":-5,"title":null}},"shape":{"field":"k","type":"nominal","scale":{"domain":["MDX","MEFᴾ"],"range":["circle","square"]},"legend":{"orient":"none","legendX":193,"legendY":-5,"title":null}}}},
{"data":{"name":"C_b"},"mark":{"type":"rule","color":"black","strokeWidth":1.2},"encoding":{"x":{"field":"g","type":"nominal","bandPosition":0.25,"scale":{"domain":["IL13","GCSF","CCL2","CD163","ARG1"]}},"x2":{"field":"g","bandPosition":0.75},"y":{"field":"t","type":"quantitative","scale":{"domain":[0,8],"nice":false}}}},
{"data":{"name":"C_b"},"mark":{"type":"rule","color":"black","strokeWidth":1.2},"encoding":{"x":{"field":"g","type":"nominal","bandPosition":0.25,"scale":{"domain":["IL13","GCSF","CCL2","CD163","ARG1"]}},"y":{"field":"t","type":"quantitative","scale":{"domain":[0,8],"nice":false}},"y2":{"field":"l"}}},
{"data":{"name":"C_b"},"mark":{"type":"rule","color":"black","strokeWidth":1.2},"encoding":{"x":{"field":"g","type":"nominal","bandPosition":0.75,"scale":{"domain":["IL13","GCSF","CCL2","CD163","ARG1"]}},"y":{"field":"t","type":"quantitative","scale":{"domain":[0,8],"nice":false}},"y2":{"field":"l"}}},
{"data":{"name":"C_b"},"transform":[{"filter":{"not":{"field":"lab","oneOf":["p=0.08"]}}}],"mark":{"type":"text","fontSize":11,"baseline":"alphabetic","dy":0,"color":"black"},"encoding":{"y":{"field":"t","type":"quantitative","scale":{"domain":[0,8],"nice":false}},"text":{"field":"lab"}}},
{"data":{"name":"C_b"},"transform":[{"filter":{"field":"lab","oneOf":["p=0.08"]}}],"mark":{"type":"text","fontSize":6.5,"baseline":"alphabetic","dy":-3,"color":"#222"},"encoding":{"y":{"field":"t","type":"quantitative","scale":{"domain":[0,8],"nice":false}},"text":{"field":"lab"}}}
]},
{"width":196,"height":90,
"title":{"text":"F","anchor":"start","frame":"group","dx":-42,"offset":9},
"encoding":{"x":{"field":"g","type":"nominal","title":null,"scale":{"domain":["IL1","TNFα","INFγ","GPR18"],"paddingInner":0,"paddingOuter":0.05},"axis":{"labelPadding":3}}},
"resolve":{"scale":{"xOffset":"independent"}},
"layer":[
{"data":{"name":"F_s"},"mark":{"type":"rule","color":"black","strokeWidth":1.2},"encoding":{"xOffset":{"field":"k","type":"nominal","scale":{"domain":["MDX","MEFᴾ"],"paddingInner":0.34,"paddingOuter":0.17}},"y":{"datum":0,"type":"quantitative","scale":{"domain":[0,1.55],"nice":false}},"y2":{"datum":-0.07}}},
{"data":{"name":"F_s"},"transform":[{"filter":{"field":"k","equal":"MDX"}}],"mark":{"type":"bar","fill":"white","stroke":"#222","strokeWidth":1.3},"encoding":{"xOffset":{"field":"k","type":"nominal","scale":{"domain":["MDX","MEFᴾ"],"paddingInner":0.34,"paddingOuter":0.17}},"y":{"field":"m","type":"quantitative","scale":{"domain":[0,1.55],"nice":false},"axis":{"values":[0,0.5,1,1.5],"format":".1f","title":["Fold change","(Heart M1)"]}}}},
{"data":{"name":"F_s"},"transform":[{"filter":{"not":{"field":"k","equal":"MDX"}}}],"mark":{"type":"bar","fill":"white","stroke":"#139a3a","strokeWidth":1.3},"encoding":{"xOffset":{"field":"k","type":"nominal","scale":{"domain":["MDX","MEFᴾ"],"paddingInner":0.34,"paddingOuter":0.17}},"y":{"field":"m","type":"quantitative","scale":{"domain":[0,1.55],"nice":false}}}},
{"data":{"name":"F_s"},"transform":[{"filter":{"field":"k","equal":"MDX"}}],"mark":{"type":"rule","color":"#222","strokeWidth":1.2},"encoding":{"xOffset":{"field":"k","type":"nominal","scale":{"domain":["MDX","MEFᴾ"],"paddingInner":0.34,"paddingOuter":0.17}},"y":{"field":"lo","type":"quantitative","scale":{"domain":[0,1.55],"nice":false}},"y2":{"field":"hi"}}},
{"data":{"name":"F_s"},"transform":[{"filter":{"not":{"field":"k","equal":"MDX"}}}],"mark":{"type":"rule","color":"#8fd3a4","strokeWidth":1.2},"encoding":{"xOffset":{"field":"k","type":"nominal","scale":{"domain":["MDX","MEFᴾ"],"paddingInner":0.34,"paddingOuter":0.17}},"y":{"field":"lo","type":"quantitative","scale":{"domain":[0,1.55],"nice":false}},"y2":{"field":"hi"}}},
{"data":{"name":"F_s"},"transform":[{"filter":{"field":"k","equal":"MDX"}}],"mark":{"type":"point","shape":"M-1,0L1,0","filled":false,"size":45,"strokeWidth":1.2,"color":"#222","opacity":1},"encoding":{"xOffset":{"field":"k","type":"nominal","scale":{"domain":["MDX","MEFᴾ"],"paddingInner":0.34,"paddingOuter":0.17}},"y":{"field":"lo","type":"quantitative","scale":{"domain":[0,1.55],"nice":false}}}},
{"data":{"name":"F_s"},"transform":[{"filter":{"field":"k","equal":"MDX"}}],"mark":{"type":"point","shape":"M-1,0L1,0","filled":false,"size":45,"strokeWidth":1.2,"color":"#222","opacity":1},"encoding":{"xOffset":{"field":"k","type":"nominal","scale":{"domain":["MDX","MEFᴾ"],"paddingInner":0.34,"paddingOuter":0.17}},"y":{"field":"hi","type":"quantitative","scale":{"domain":[0,1.55],"nice":false}}}},
{"data":{"name":"F_s"},"transform":[{"filter":{"not":{"field":"k","equal":"MDX"}}}],"mark":{"type":"point","shape":"M-1,0L1,0","filled":false,"size":45,"strokeWidth":1.2,"color":"#8fd3a4","opacity":1},"encoding":{"xOffset":{"field":"k","type":"nominal","scale":{"domain":["MDX","MEFᴾ"],"paddingInner":0.34,"paddingOuter":0.17}},"y":{"field":"lo","type":"quantitative","scale":{"domain":[0,1.55],"nice":false}}}},
{"data":{"name":"F_s"},"transform":[{"filter":{"not":{"field":"k","equal":"MDX"}}}],"mark":{"type":"point","shape":"M-1,0L1,0","filled":false,"size":45,"strokeWidth":1.2,"color":"#8fd3a4","opacity":1},"encoding":{"xOffset":{"field":"k","type":"nominal","scale":{"domain":["MDX","MEFᴾ"],"paddingInner":0.34,"paddingOuter":0.17}},"y":{"field":"hi","type":"quantitative","scale":{"domain":[0,1.55],"nice":false}}}},
{"data":{"name":"F_p"},"mark":{"type":"point","filled":true,"size":13,"opacity":1},"encoding":{"xOffset":{"field":"s","type":"nominal","scale":{"type":"point","domain":["a1","a2","a3","a4","a5","a6","a7","a8","a9","a10","a11","b1","b2","b3","b4","b5","b6","b7","b8","b9","b10","b11"],"padding":0.5}},"y":{"field":"v","type":"quantitative","scale":{"domain":[0,1.55],"nice":false}},"color":{"field":"k","type":"nominal","scale":{"domain":["MDX","MEFᴾ"],"range":["black","#139a3a"]},"legend":{"orient":"none","legendX":192,"legendY":-7,"title":null}},"shape":{"field":"k","type":"nominal","scale":{"domain":["MDX","MEFᴾ"],"range":["circle","square"]},"legend":{"orient":"none","legendX":192,"legendY":-7,"title":null}}}},
{"data":{"name":"F_b"},"mark":{"type":"rule","color":"black","strokeWidth":1.2},"encoding":{"x":{"field":"g","type":"nominal","bandPosition":0.25,"scale":{"domain":["IL1","TNFα","INFγ","GPR18"]}},"x2":{"field":"g","bandPosition":0.75},"y":{"field":"t","type":"quantitative","scale":{"domain":[0,1.55],"nice":false}}}},
{"data":{"name":"F_b"},"mark":{"type":"rule","color":"black","strokeWidth":1.2},"encoding":{"x":{"field":"g","type":"nominal","bandPosition":0.25,"scale":{"domain":["IL1","TNFα","INFγ","GPR18"]}},"y":{"field":"t","type":"quantitative","scale":{"domain":[0,1.55],"nice":false}},"y2":{"field":"l"}}},
{"data":{"name":"F_b"},"mark":{"type":"rule","color":"black","strokeWidth":1.2},"encoding":{"x":{"field":"g","type":"nominal","bandPosition":0.75,"scale":{"domain":["IL1","TNFα","INFγ","GPR18"]}},"y":{"field":"t","type":"quantitative","scale":{"domain":[0,1.55],"nice":false}},"y2":{"field":"l"}}},
{"data":{"name":"F_b"},"transform":[{"filter":{"not":{"field":"lab","oneOf":["p=0.0504"]}}}],"mark":{"type":"text","fontSize":11,"baseline":"alphabetic","dy":0,"color":"black"},"encoding":{"y":{"field":"t","type":"quantitative","scale":{"domain":[0,1.55],"nice":false}},"text":{"field":"lab"}}},
{"data":{"name":"F_b"},"transform":[{"filter":{"field":"lab","oneOf":["p=0.0504"]}}],"mark":{"type":"text","fontSize":6.5,"baseline":"alphabetic","dy":-3,"color":"#222"},"encoding":{"y":{"field":"t","type":"quantitative","scale":{"domain":[0,1.55],"nice":false}},"text":{"field":"lab"}}}
]}
]
}
